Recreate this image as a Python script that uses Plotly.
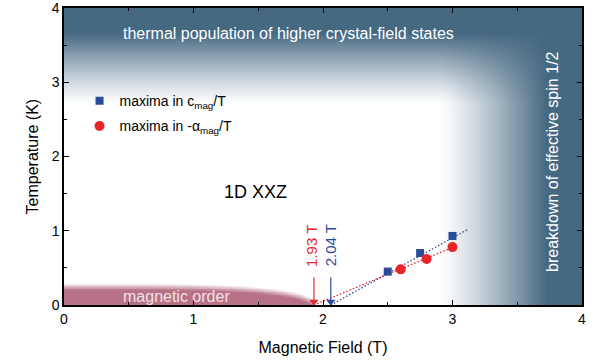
import numpy as np
import plotly.graph_objects as go

# ---- data ----
cmag_field = [2.50, 2.75, 3.00]
cmag_temp = [0.45, 0.70, 0.93]
alpha_field = [2.60, 2.80, 3.00]
alpha_temp = [0.48, 0.62, 0.78]
fit_blue_field = [2.06, 3.12]
fit_blue_temp = [0.0, 1.02]
fit_red_field = [1.93, 3.02]
fit_red_temp = [0.0, 0.79]
crit_red = 1.93
crit_blue = 2.06
arrow_top = 0.37

# background regime parameters
thermal_start, thermal_full = 2.70, 3.66     # K
breakdown_start, breakdown_full = 2.90, 3.72  # T
order_T0, order_Hc = 0.25, 1.93

BLUE_BG = "rgb(70,105,130)"
MAUVE = "rgb(183,114,135)"
RED = "rgb(232,37,42)"
BLUE = "rgb(43,74,155)"

# ---- background field ----
hx = np.linspace(0, 4, 201)
ty = np.linspace(0, 4, 401)
H, T = np.meshgrid(hx, ty)
a = np.clip((T - thermal_start) / (thermal_full - thermal_start), 0, 1)
b = np.clip((H - breakdown_start) / (breakdown_full - breakdown_start), 0, 1)
a = a ** 1.2
b = b ** 1.2
blue_int = 1 - (1 - a) * (1 - b)
Tn = order_T0 * np.sqrt(np.clip(1 - (H / order_Hc) ** 4, 0, None))
m = np.clip((Tn - T) / 0.09 + 0.5, 0, 1)
m[Tn <= 0] = 0
z = blue_int - m

fig = go.Figure()
fig.add_trace(go.Heatmap(
    x=hx, y=ty, z=z, zmin=-1, zmax=1, zsmooth="best",
    colorscale=[[0, MAUVE], [0.5, "white"], [1, BLUE_BG]],
    showscale=False, hoverinfo="skip"))

fig.add_trace(go.Scatter(x=fit_blue_field, y=fit_blue_temp, mode="lines",
                         line=dict(color=BLUE, width=1.3, dash="1.5px,2px"), showlegend=False))
fig.add_trace(go.Scatter(x=fit_red_field, y=fit_red_temp, mode="lines",
                         line=dict(color=RED, width=1.3, dash="1.5px,2px"), showlegend=False))

# arrows marking critical fields
for xc, col in [(crit_red, RED), (crit_blue, BLUE)]:
    fig.add_trace(go.Scatter(x=[xc, xc], y=[arrow_top, 0.06], mode="lines",
                             line=dict(color=col, width=1.2), showlegend=False,
                             hoverinfo="skip"))
    fig.add_trace(go.Scatter(x=[xc], y=[0.045], mode="markers",
                             marker=dict(symbol="triangle-down", size=8, color=col),
                             showlegend=False, hoverinfo="skip"))

fig.add_trace(go.Scatter(x=cmag_field, y=cmag_temp, mode="markers",
                         marker=dict(symbol="square", size=8, color=BLUE),
                         name="maxima in c<sub>mag</sub>/T", legendgroup="c"))
fig.add_trace(go.Scatter(x=alpha_field, y=alpha_temp, mode="markers",
                         marker=dict(symbol="circle", size=10, color=RED),
                         name="maxima in -α<sub>mag</sub>/T", legendgroup="a"))

font = "Liberation Sans, Arial, sans-serif"
ann = [
    dict(x=1.73, y=3.66, text="thermal population of higher crystal-field states",
         font=dict(color="white", size=16)),
    dict(x=3.77, y=1.93, text="breakdown of effective spin 1/2", textangle=-90,
         font=dict(color="white", size=16)),
    dict(x=1.48, y=1.52, text="1D XXZ", font=dict(color="black", size=18)),
    dict(x=0.87, y=0.12, text="magnetic order", font=dict(color="rgb(242,224,230)", size=16)),
    dict(x=crit_red - 0.02, y=0.80, text="1.93 T", textangle=-90, font=dict(color=RED, size=15)),
    dict(x=crit_blue + 0.0, y=0.80, text="2.04 T", textangle=-90, font=dict(color=BLUE, size=15)),
]
annotations = []
for d in ann:
    d.update(xref="x", yref="y", showarrow=False)
    annotations.append(d)
# y-axis title placed as paper annotation for exact position
annotations.append(dict(x=-0.06, y=0.5, xref="paper", yref="paper", xanchor="center",
                        yanchor="middle", text="Temperature (K)", textangle=-90,
                        showarrow=False, font=dict(size=16, color="black")))

axis_common = dict(range=[0, 4], dtick=1, ticks="inside", ticklen=5, tickwidth=1.2,
                   tickcolor="black", showline=True, linecolor="black", linewidth=1.5,
                   mirror="ticks", showgrid=False, zeroline=False, automargin=False,
                   ticklabeloverflow="allow",
                   minor=dict(dtick=0.5, ticks="inside", ticklen=3, tickcolor="black"),
                   tickfont=dict(size=14, color="black"))

fig.update_layout(
    width=602, height=360,
    margin=dict(l=64, r=20, t=8, b=55),
    plot_bgcolor="white", paper_bgcolor="white",
    font=dict(family=font, color="black"),
    xaxis=dict(**axis_common, title=dict(text="Magnetic Field (T)", font=dict(size=16), standoff=16)),
    yaxis=dict(**axis_common),
    legend=dict(x=0.03, y=0.74, xanchor="left", yanchor="top", bgcolor="rgba(0,0,0,0)",
                font=dict(size=14), tracegroupgap=4, itemwidth=30),
    annotations=annotations,
)
fig.write_html("out.html")
